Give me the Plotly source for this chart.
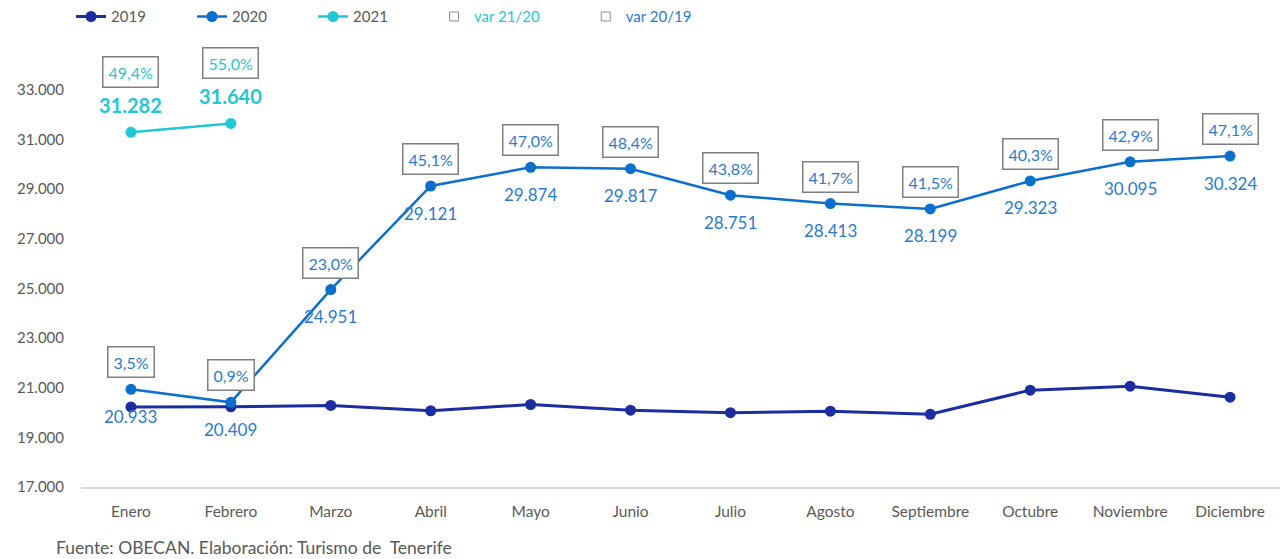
import plotly.graph_objects as go

months = ["Enero", "Febrero", "Marzo", "Abril", "Mayo", "Junio", "Julio",
          "Agosto", "Septiembre", "Octubre", "Noviembre", "Diciembre"]
v2019 = [20225, 20227, 20285, 20070, 20322, 20093, 19994, 20052, 19929, 20900, 21060, 20615]
v2020 = [20933, 20409, 24951, 29121, 29874, 29817, 28751, 28413, 28199, 29323, 30095, 30324]
v2021 = [31282, 31640]
var_21_20 = ["49,4%", "55,0%"]
var_20_19 = ["3,5%", "0,9%", "23,0%", "45,1%", "47,0%", "48,4%", "43,8%",
             "41,7%", "41,5%", "40,3%", "42,9%", "47,1%"]
y_ticks = [17000, 19000, 21000, 23000, 25000, 27000, 29000, 31000, 33000]

C19 = "#1B2DA0"
C20 = "#0B6FCD"
C21 = "#1FC8D3"
T20 = "#2A7BD0"
GRAY = "#595959"
FONT = "Lato"


def fmt(v):
    return f"{v:,}".replace(",", ".")


fig = go.Figure()
fig.add_trace(go.Scatter(x=months, y=v2019, name="2019", mode="lines+markers",
                         line=dict(color=C19, width=3), marker=dict(size=11, color=C19)))
fig.add_trace(go.Scatter(x=months, y=v2020, name="2020", mode="lines+markers",
                         line=dict(color=C20, width=2.5), marker=dict(size=11, color=C20)))
fig.add_trace(go.Scatter(x=months[:len(v2021)], y=v2021, name="2021", mode="lines+markers",
                         line=dict(color=C21, width=2.5), marker=dict(size=11, color=C21)))
fig.add_trace(go.Scatter(x=[None], y=[None], mode="markers",
                         name=f"<span style='color:{C21}'>var 21/20</span>",
                         marker=dict(symbol="square-open", size=9, color="#8c8c8c", line=dict(width=1))))
fig.add_trace(go.Scatter(x=[None], y=[None], mode="markers", legend="legend2",
                         name=f"<span style='color:{T20}'>var 20/19</span>",
                         marker=dict(symbol="square-open", size=9, color="#8c8c8c", line=dict(width=1))))

anns = []
# 2020 values below points, var 20/19 boxes above
for m, v, p in zip(months, v2020, var_20_19):
    anns.append(dict(x=m, y=v, text=fmt(v), showarrow=False, yshift=-27,
                     font=dict(family=FONT, size=17, color=T20)))
    anns.append(dict(x=m, y=v, text=p, showarrow=False, yshift=27,
                     font=dict(family=FONT, size=16, color=T20),
                     bordercolor="#7f7f7f", borderwidth=1.5, borderpad=5, bgcolor="white"))
# 2021 values above, var 21/20 boxes further above
for m, v, p in zip(months, v2021, var_21_20):
    anns.append(dict(x=m, y=v, text=f"<b>{fmt(v)}</b>", showarrow=False, yshift=27,
                     font=dict(family=FONT, size=20, color=C21)))
    anns.append(dict(x=m, y=v, text=p, showarrow=False, yshift=60,
                     font=dict(family=FONT, size=16, color=C21),
                     bordercolor="#7f7f7f", borderwidth=1.5, borderpad=5, bgcolor="white"))
anns.append(dict(xref="paper", yref="paper", x=-0.0225, y=-0.135, xanchor="left", yanchor="middle",
                 text="Fuente: OBECAN. Elaboración: Turismo de  Tenerife", showarrow=False,
                 font=dict(family=FONT, size=17.5, color=GRAY)))

fig.update_layout(
    width=1280, height=559,
    margin=dict(l=81, r=0, t=37, b=72),
    paper_bgcolor="white", plot_bgcolor="white",
    font=dict(family=FONT, color=GRAY, size=14),
    showlegend=True,
    legend=dict(orientation="h", x=-0.0083, y=1.052, xanchor="left", yanchor="middle",
                font=dict(family=FONT, size=15, color=GRAY),
                entrywidth=76, entrywidthmode="pixels", bgcolor="rgba(0,0,0,0)"),
    legend2=dict(orientation="h", x=0.421, y=1.052, xanchor="left", yanchor="middle",
                 font=dict(family=FONT, size=15, color=GRAY), bgcolor="rgba(0,0,0,0)"),
    annotations=anns,
    xaxis=dict(type="category", showgrid=False, showline=True, linecolor="#d9d9d9", linewidth=2,
               ticks="", tickfont=dict(family=FONT, size=15.5, color=GRAY), ticklabelstandoff=9,
               range=[-0.5, 11.5]),
    yaxis=dict(range=[17000, 35000], showgrid=False, zeroline=False, showline=False,
               tickvals=y_ticks, ticktext=[fmt(t) for t in y_ticks],
               tickfont=dict(family=FONT, size=15, color=GRAY), ticklabelstandoff=16),
)

fig.write_html("out.html")
